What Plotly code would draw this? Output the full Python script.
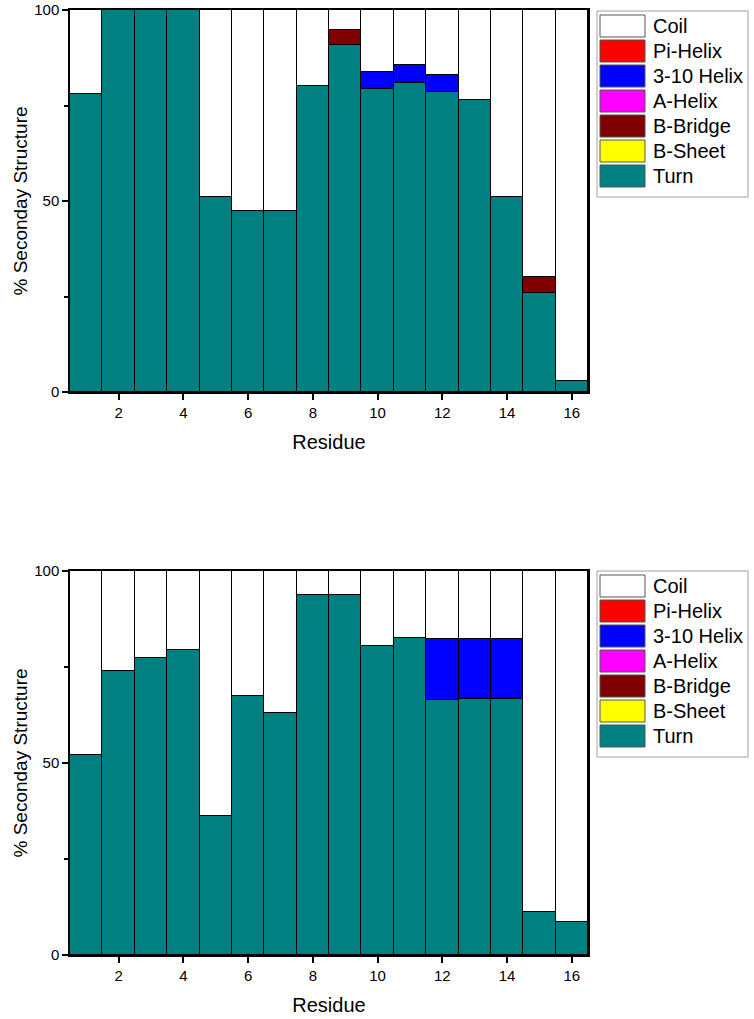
import plotly.graph_objects as go

residues = list(range(1, 17))

# Top chart (%)
turn_a = [78, 100, 100, 100, 51, 47.5, 47.3, 80, 90.8, 79.2, 81, 78.6, 76.5, 51, 26, 3]
bsheet_a = [0] * 16
bbridge_a = [0, 0, 0, 0, 0, 0, 0, 0, 4, 0, 0, 0, 0, 0, 4.2, 0]
ahelix_a = [0] * 16
h310_a = [0, 0, 0, 0, 0, 0, 0, 0, 0, 4.5, 4.5, 4.5, 0, 0, 0, 0]
pihelix_a = [0] * 16
coil_a = [22, 0, 0, 0, 49, 52.5, 52.7, 20, 5.2, 16.3, 14.5, 16.9, 23.5, 49, 69.8, 97]

# Bottom chart (%)
turn_b = [52.2, 74, 77.4, 79.5, 36.3, 67.5, 63, 93.7, 93.7, 80.5, 82.5, 66.5, 66.7, 66.7, 11.3, 8.7]
bsheet_b = [0] * 16
bbridge_b = [0] * 16
ahelix_b = [0] * 16
h310_b = [0, 0, 0, 0, 0, 0, 0, 0, 0, 0, 0, 15.7, 15.6, 15.6, 0, 0]
pihelix_b = [0] * 16
coil_b = [47.8, 26, 22.6, 20.5, 63.7, 32.5, 37, 6.3, 6.3, 19.5, 17.5, 17.8, 17.7, 17.7, 88.7, 91.3]

names = ["Turn", "B-Sheet", "B-Bridge", "A-Helix", "3-10 Helix", "Pi-Helix", "Coil"]
colors = ["#008080", "#FFFF00", "#800000", "#FF00FF", "#0000FF", "#FF0000", "#FFFFFF"]
top_series = [turn_a, bsheet_a, bbridge_a, ahelix_a, h310_a, pihelix_a, coil_a]
bot_series = [turn_b, bsheet_b, bbridge_b, ahelix_b, h310_b, pihelix_b, coil_b]

FONT = "Arial, Liberation Sans, sans-serif"
W, H = 754, 1019
ML = 70
MR = W - 588
MT = 10
MB = H - 955
PW = W - ML - MR
PH = H - MT - MB


def px_x(px):
    return (px - ML) / PW


def px_y(py):
    return 1 - (py - MT) / PH


fig = go.Figure()
for name, col, vals in zip(names, colors, top_series):
    fig.add_trace(go.Bar(x=residues, y=vals, name=name, marker_color=col,
                         marker_line=dict(color="black", width=1.2), width=1,
                         xaxis="x", yaxis="y", showlegend=False))
for name, col, vals in zip(names, colors, bot_series):
    fig.add_trace(go.Bar(x=residues, y=vals, name=name, marker_color=col,
                         marker_line=dict(color="black", width=1.2), width=1,
                         xaxis="x2", yaxis="y2", showlegend=False))


def xa(anchor):
    return dict(domain=[0, 1], range=[0.5, 16.5], anchor=anchor, automargin=False,
                tickvals=[2, 4, 6, 8, 10, 12, 14, 16], ticks="outside", ticklen=6,
                tickwidth=1.5, tickcolor="black", showline=True, linecolor="black",
                linewidth=1.5, mirror=True, showgrid=False, zeroline=False,
                ticklabeloverflow="allow",
                tickfont=dict(size=15, color="black", family=FONT),
                title=dict(text="Residue", font=dict(size=20, color="black", family=FONT), standoff=15))


def ya(y0, y1, anchor):
    return dict(domain=[px_y(y1), px_y(y0)], range=[0, 100], anchor=anchor,
                automargin=False, tickvals=[0, 50, 100], ticks="outside", ticklen=6, tickwidth=1.5,
                tickcolor="black", showline=True, linecolor="black", linewidth=1.5,
                mirror=True, showgrid=False, zeroline=False, ticklabeloverflow="allow",
                minor=dict(tickvals=[25, 75], ticks="outside", ticklen=4, tickcolor="black", tickwidth=1.5),
                tickfont=dict(size=15, color="black", family=FONT),
                title=dict(text="% Seconday Structure", font=dict(size=19, color="black", family=FONT), standoff=2))


# Hand-drawn legends (large swatches, as in the reference)
shapes = []
annotations = []
legend_order = list(reversed(list(zip(names, colors))))
for top in (11, 571):
    shapes.append(dict(type="rect", xref="paper", yref="paper",
                       x0=px_x(597), x1=px_x(748), y0=px_y(top + 186), y1=px_y(top),
                       line=dict(color="#A0A0A0", width=1), fillcolor="white", layer="above"))
    for i, (name, col) in enumerate(legend_order):
        sy0 = top + 4 + 25 * i
        shapes.append(dict(type="rect", xref="paper", yref="paper",
                           x0=px_x(600), x1=px_x(645), y0=px_y(sy0 + 22), y1=px_y(sy0),
                           line=dict(color="#555555", width=1), fillcolor=col, layer="above"))
        annotations.append(dict(xref="paper", yref="paper", x=px_x(651), y=px_y(sy0 + 11),
                                xanchor="left", yanchor="middle", text=name, showarrow=False,
                                font=dict(size=20, color="black", family=FONT)))

fig.update_layout(
    width=W, height=H, margin=dict(l=ML, r=MR, t=MT, b=MB),
    paper_bgcolor="white", plot_bgcolor="white", barmode="stack", bargap=0,
    font=dict(family=FONT, color="black"),
    xaxis=xa("y"), yaxis=ya(10, 392, "x"),
    xaxis2=xa("y2"), yaxis2=ya(571, 955, "x2"),
    showlegend=False, shapes=shapes, annotations=annotations,
)

# remove the page's default 8px body margin so the figure sits at the window origin
fig.write_html("out.html", config={"displayModeBar": False},
               post_script="document.body.style.margin='0';document.body.style.overflow='hidden';")
